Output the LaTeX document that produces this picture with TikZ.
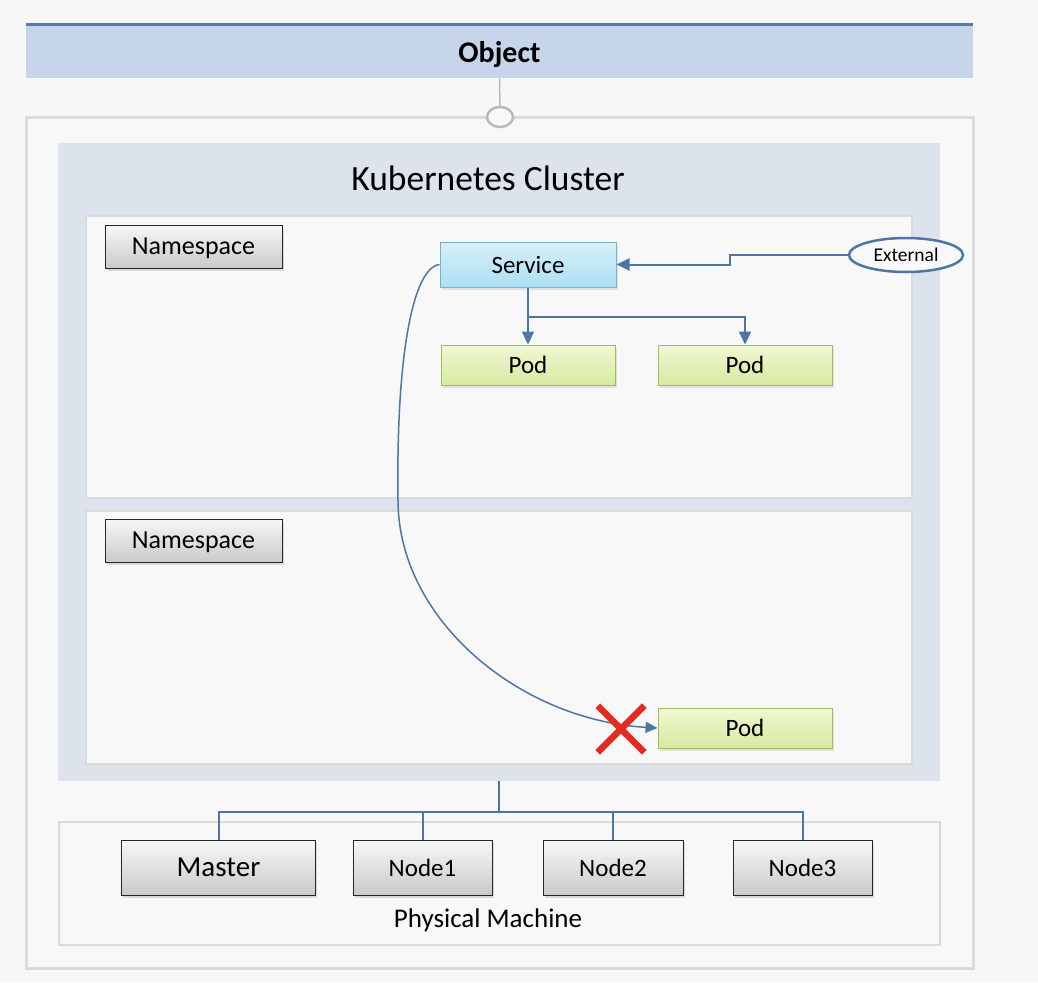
\documentclass[tikz,border=0pt]{standalone}
\usepackage{fontspec}
\setmainfont{Carlito}
\usepackage{xcolor}
\usetikzlibrary{positioning,calc,shapes.geometric,shapes.misc,arrows.meta,shadows}
\definecolor{pagebg}{RGB}{247,247,247}
\definecolor{objfill}{RGB}{198,213,234}
\definecolor{objline}{RGB}{88,122,176}
\definecolor{clusterfill}{RGB}{220,227,237}
\definecolor{panelfill}{RGB}{248,248,248}
\definecolor{panelline}{RGB}{218,218,218}
\definecolor{linkblue}{RGB}{79,116,168}
\definecolor{svctop}{RGB}{214,240,250}
\definecolor{svcbot}{RGB}{172,223,242}
\definecolor{svcline}{RGB}{122,178,204}
\definecolor{podtop}{RGB}{240,247,210}
\definecolor{podbot}{RGB}{214,234,160}
\definecolor{podline}{RGB}{160,190,95}
\definecolor{cutred}{RGB}{226,44,34}
\tikzstyle{caps} = [text depth=0pt]
\tikzstyle{panel} = [rectangle, draw=panelline, line width=2pt, fill=panelfill, inner sep=0pt]
\tikzstyle{graybox} = [rectangle, caps, draw=black!85, line width=1pt, top color=gray!6, bottom color=gray!42, inner sep=0pt, drop shadow={shadow xshift=1.5pt, shadow yshift=-3pt, opacity=0.25}]
\tikzstyle{svcbox} = [rectangle, caps, draw=svcline, line width=1pt, top color=svctop, bottom color=svcbot, inner sep=0pt, minimum width=176, minimum height=45, font=\fontsize{25}{28}\selectfont, drop shadow={shadow xshift=1.5pt, shadow yshift=-2.5pt, opacity=0.2}]
\tikzstyle{podbox} = [rectangle, caps, draw=podline, line width=1pt, top color=podtop, bottom color=podbot, inner sep=0pt, minimum width=174, minimum height=40, font=\fontsize{25}{28}\selectfont, drop shadow={shadow xshift=1.5pt, shadow yshift=-2.5pt, opacity=0.2}]
\tikzstyle{link} = [linkblue, line width=2pt]
\tikzstyle{arrow} = [link, -{Triangle[length=13pt,width=12pt]}]
\begin{document}
\begin{tikzpicture}[x=1pt,y=-1pt]
\useasboundingbox[fill=pagebg] (0,0) rectangle (1038,982);
\node[panel, line width=3pt, minimum width=947, minimum height=851] (outer) at (499.5,542.5) {};
\node[rectangle, caps, fill=objfill, inner sep=0pt, minimum width=947, minimum height=53, font=\fontsize{30}{34}\selectfont\bfseries] (obj) at (499.5,51.5) {Object};
\draw[objline, line width=3pt] (obj.north west) -- (obj.north east);
\node[ellipse, draw=gray!55, line width=2.5pt, fill=panelfill, minimum width=26, minimum height=20, inner sep=0pt] (knob) at (500,117) {};
\draw[gray!55, line width=1.5pt] (obj.south) -- (knob.north);
\node[rectangle, fill=clusterfill, inner sep=0pt, minimum width=882, minimum height=638] (cluster) at (499,462) {};
\node[caps, font=\fontsize{35.5}{40}\selectfont] (title) at (488,178) {Kubernetes Cluster};
\node[panel, minimum width=826, minimum height=282] (space1) at (499,357) {};
\node[panel, minimum width=826, minimum height=253] (space2) at (499,637.5) {};
\node[graybox, minimum width=177, minimum height=43, font=\fontsize{26}{30}\selectfont] (ns1) at (193.5,246.5) {Namespace};
\node[graybox, minimum width=177, minimum height=43, font=\fontsize{26}{30}\selectfont] (ns2) at (193.5,540.5) {Namespace};
\node[svcbox] (svc) at (528,264.5) {Service};
\node[podbox] (pod1) at (528,365) {Pod};
\node[podbox] (pod2) at (745,365) {Pod};
\node[podbox] (pod3) at (745,728) {Pod};
\node[ellipse, caps, draw=linkblue, line width=2.5pt, fill=panelfill, minimum width=114, minimum height=34, inner sep=0pt, font=\fontsize{19.5}{22}\selectfont] (ext) at (906,255) {External};
\draw[arrow] (ext.west) -- ++(-118,0) |- (svc.east);
\draw[arrow] (svc.south) -- (pod1.north);
\draw[arrow] (svc.south) -- ++(0,29) -| (pod2.north);
\coordinate (bend) at (398,500);
\draw[linkblue, line width=1.5pt, -{Triangle[length=12pt,width=11pt]}] (svc.west) .. controls (412,268) and (396,360) .. (bend) .. controls (398,620) and (520,720) .. (pod3.west);
\node[cross out, draw=cutred, line width=6.5pt, minimum size=40, inner sep=0pt] (cut) at (621,729) {};
\node[panel, minimum width=881, minimum height=123] (phys) at (499.5,883.5) {};
\node[caps, font=\fontsize{27}{30}\selectfont] (physlabel) at (488,918) {Physical Machine};
\node[graybox, minimum width=194, minimum height=55, font=\fontsize{29}{32}\selectfont] (master) at (218.5,867.5) {Master};
\node[graybox, minimum width=139, minimum height=55, font=\fontsize{25}{28}\selectfont] (node1) at (422.5,867.5) {Node1};
\node[graybox, minimum width=140, minimum height=55, font=\fontsize{25}{28}\selectfont] (node2) at (613,867.5) {Node2};
\node[graybox, minimum width=139, minimum height=55, font=\fontsize{25}{28}\selectfont] (node3) at (802.5,867.5) {Node3};
\coordinate (hub) at (499,812);
\draw[link] (cluster.south) -- (hub);
\draw[link] (hub) -| (master.north);
\draw[link] (hub) -| (node1.north);
\draw[link] (hub) -| (node2.north);
\draw[link] (hub) -| (node3.north);
\end{tikzpicture}
\end{document}
